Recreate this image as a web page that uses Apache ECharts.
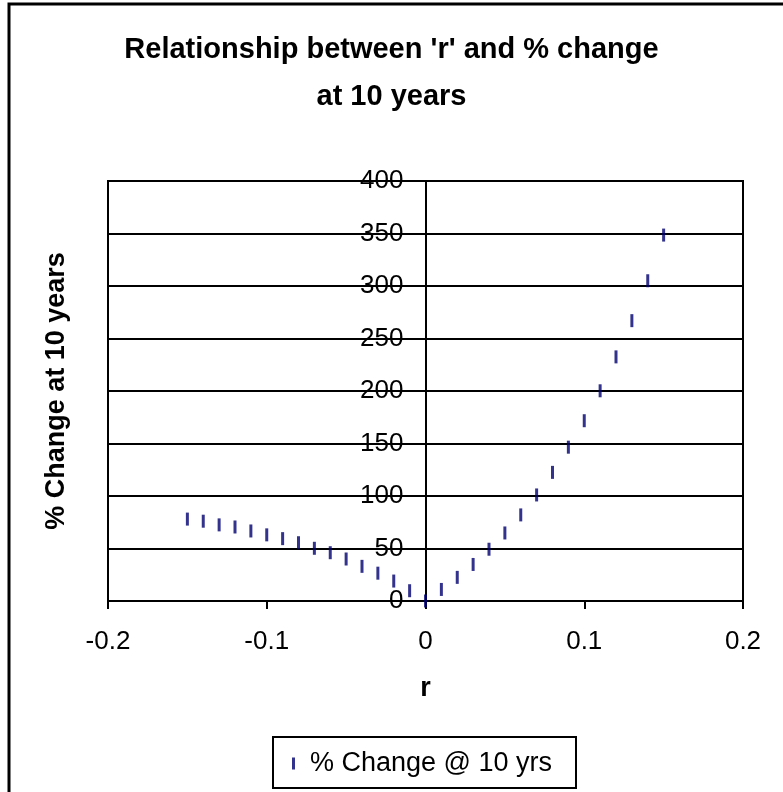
<!DOCTYPE html>
<html>
<head>
<meta charset="utf-8">
<script src="https://cdn.jsdelivr.net/npm/echarts@6/dist/echarts.min.js"></script>
<style>
  html, body { margin: 0; padding: 0; background: #fff; }
  #chart { width: 783px; height: 792px; }
</style>
</head>
<body>
<div id="chart"></div>
<script>
// ---- Data ----
var titleLines = ["Relationship between 'r' and % change", 'at 10 years'];
var xAxisName = 'r';
var yAxisName = '% Change at 10 years';
var seriesName = '% Change @ 10 yrs';

var rValues = [-0.15, -0.14, -0.13, -0.12, -0.11, -0.10, -0.09, -0.08, -0.07, -0.06,
               -0.05, -0.04, -0.03, -0.02, -0.01, 0.00, 0.01, 0.02, 0.03, 0.04,
               0.05, 0.06, 0.07, 0.08, 0.09, 0.10, 0.11, 0.12, 0.13, 0.14, 0.15];
var pctChange = [78, 76, 72.5, 70.5, 66.7, 63, 59.4, 55.5, 50.2, 46,
                 40, 33, 26.5, 19, 9.8, 0, 11, 22.5, 34.8, 49.3,
                 64.8, 82, 101, 122.5, 146.5, 171.7, 200.2, 232.5, 267, 305, 348.5];

var xMin = -0.2, xMax = 0.2, xInterval = 0.1;
var yMin = 0, yMax = 400, yInterval = 50;

// ---- Build chart ----
var points = rValues.map(function (r, i) { return [r, pctChange[i]]; });
var FONT = "'Liberation Sans', Arial, sans-serif";
var GRID = { left: 108, right: 40, top: 181, bottom: 191 };
var plotWidth = 783 - GRID.left - GRID.right;
// y axis crosses the x axis at r = 0 (middle of the x range)
var yAxisShift = -plotWidth * (0 - xMin) / (xMax - xMin);

var titleTops = [35, 82];
var titles = titleLines.map(function (t, i) {
  return {
    text: t, left: 'center', top: titleTops[i], padding: 0,
    textStyle: { fontFamily: FONT, fontSize: 29, fontWeight: 'bold', color: '#000' }
  };
});

var chart = echarts.init(document.getElementById('chart'), null, { renderer: 'canvas' });
chart.setOption({
  backgroundColor: '#ffffff',
  animation: false,
  textStyle: { fontFamily: FONT, color: '#000' },
  title: titles,
  graphic: [
    { type: 'rect', shape: { x: 9, y: 4, width: 820, height: 820 },
      style: { fill: 'none', stroke: '#000', lineWidth: 3 }, silent: true, z: -10 },
    { type: 'rect', shape: { x: 273, y: 737, width: 303, height: 51 },
      style: { fill: 'none', stroke: '#000', lineWidth: 2 }, silent: true }
  ],
  legend: {
    data: [seriesName],
    left: 292,
    top: 750,
    padding: 0,
    icon: 'rect',
    itemWidth: 3,
    itemHeight: 12,
    textStyle: { fontFamily: FONT, fontSize: 27, color: '#000', padding: [0, 0, 0, 10] }
  },
  grid: {
    left: GRID.left, right: GRID.right, top: GRID.top, bottom: GRID.bottom,
    containLabel: false,
    outerBoundsMode: 'none',
    show: true, borderColor: '#000', borderWidth: 2, backgroundColor: '#fff'
  },
  xAxis: {
    type: 'value',
    min: xMin, max: xMax, interval: xInterval,
    name: xAxisName,
    nameLocation: 'middle',
    nameGap: 74,
    nameTextStyle: { fontFamily: FONT, fontSize: 27, fontWeight: 'bold', color: '#000' },
    axisLine: { show: true, onZero: false, lineStyle: { color: '#000', width: 2 } },
    axisTick: { show: true, inside: false, length: 8, lineStyle: { color: '#000', width: 2 } },
    axisLabel: { margin: 28, fontFamily: FONT, fontSize: 26, color: '#000',
                 formatter: function (v) { return String(Math.round(v * 10) / 10); } },
    splitLine: { show: false }
  },
  yAxis: {
    type: 'value',
    min: yMin, max: yMax, interval: yInterval,
    offset: yAxisShift,
    name: yAxisName,
    nameLocation: 'middle',
    nameRotate: 90,
    nameGap: 355,
    nameTextStyle: { fontFamily: FONT, fontSize: 27, fontWeight: 'bold', color: '#000' },
    axisLine: { show: true, onZero: false, lineStyle: { color: '#000', width: 2 } },
    axisTick: { show: false },
    axisLabel: { margin: 22, fontFamily: FONT, fontSize: 26, color: '#000' },
    splitLine: { show: true, lineStyle: { color: '#000', width: 2 } }
  },
  series: [{
    name: seriesName,
    type: 'scatter',
    data: points,
    symbol: 'rect',
    symbolSize: [3, 13],
    clip: false,
    itemStyle: { color: '#000070' },
    z: 5
  }]
});
</script>
</body>
</html>
